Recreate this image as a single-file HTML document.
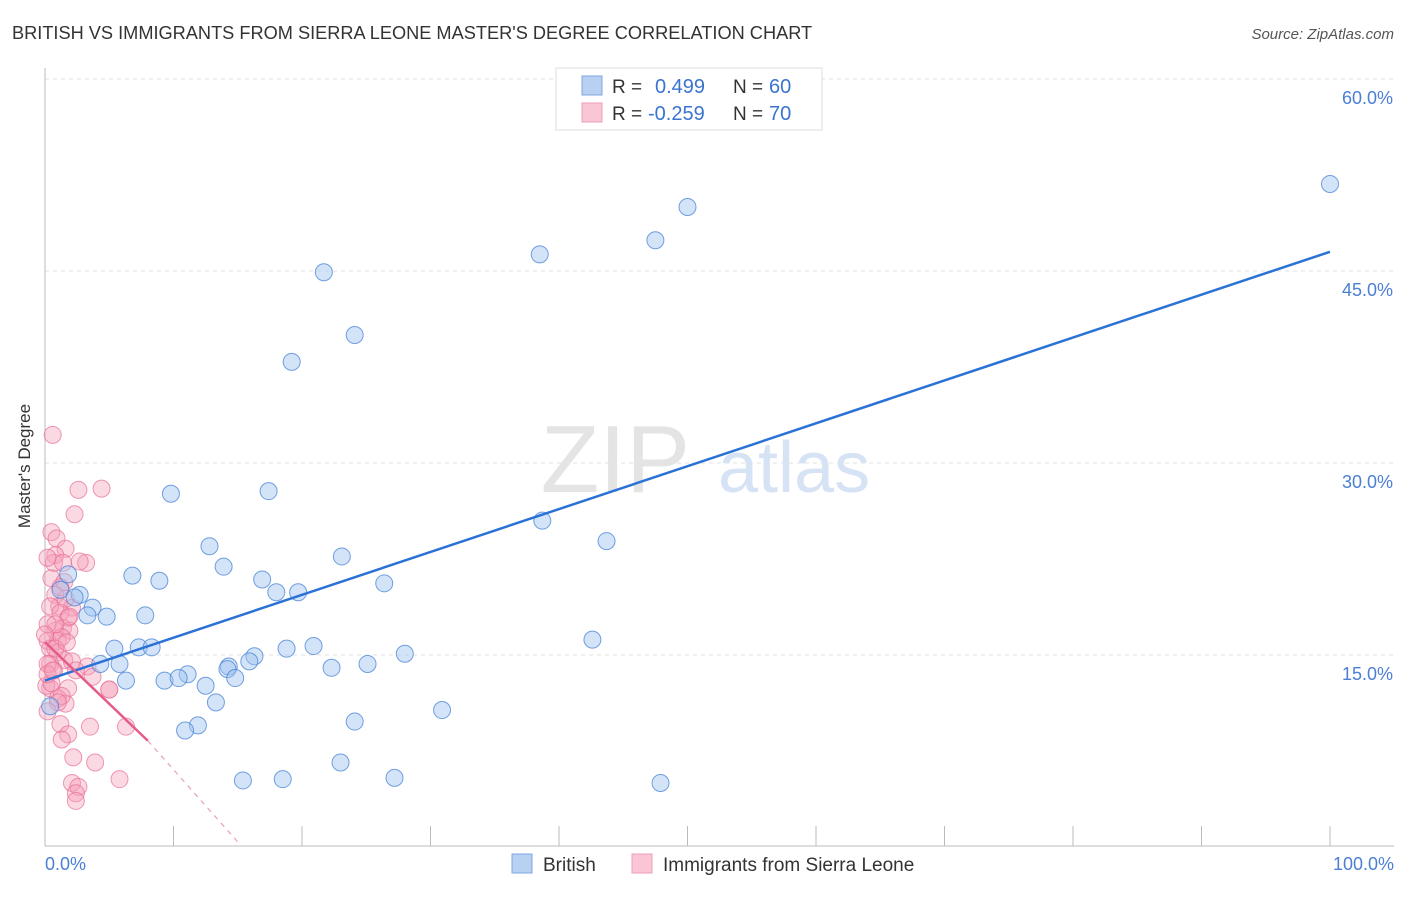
<!DOCTYPE html>
<html><head><meta charset="utf-8"><style>
body{margin:0;background:#fff;font-family:"Liberation Sans",sans-serif;}
svg text{font-family:"Liberation Sans",sans-serif;}
</style></head><body>
<svg width="1406" height="892" xmlns="http://www.w3.org/2000/svg">
<text x="12" y="39" font-size="18.2" fill="#333">BRITISH VS IMMIGRANTS FROM SIERRA LEONE MASTER'S DEGREE CORRELATION CHART</text>
<text x="1394" y="39" font-size="15" fill="#555" font-style="italic" text-anchor="end">Source: ZipAtlas.com</text>
<g id="grid"></g>
<text x="690" y="492" font-size="96" fill="#e4e4e4" font-family="Liberation Serif" text-anchor="end">ZIP</text>
<text x="718" y="492" font-size="72" fill="#d6e3f5">atlas</text>
<line x1="45" y1="68" x2="45" y2="846" stroke="#bbb"/>
<line x1="45" y1="846" x2="1394" y2="846" stroke="#bbb"/>
<text x="20" y="456" font-size="17" fill="#333" transform="rotate(-90 30 456)" text-anchor="middle">Master's Degree</text>
<text x="45" y="870" font-size="18" fill="#4a7fd4">0.0%</text>
<text x="1394" y="870" font-size="18" fill="#4a7fd4" text-anchor="end">100.0%</text>
<g id="pts"></g>
<g id="trends"></g>
<g>
<rect x="556" y="68" width="266" height="62" fill="#fff" stroke="#ddd"/>
<rect x="582" y="76" width="20" height="19" fill="#b8d1f3" stroke="#7ea7e0"/>
<rect x="582" y="103" width="20" height="19" fill="#fac6d6" stroke="#ef9fb8"/>
<text x="612" y="93" font-size="19" fill="#333">R = </text><text x="655" y="93" font-size="20" fill="#3a74d0">0.499</text>
<text x="733" y="93" font-size="19" fill="#333">N = </text><text x="769" y="93" font-size="20" fill="#3a74d0">60</text>
<text x="612" y="120" font-size="19" fill="#333">R = </text><text x="648" y="120" font-size="20" fill="#3a74d0">-0.259</text>
<text x="733" y="120" font-size="19" fill="#333">N = </text><text x="769" y="120" font-size="20" fill="#3a74d0">70</text>
</g>
<g>
<rect x="512" y="854" width="20" height="19" fill="#b8d1f3" stroke="#7ea7e0"/>
<text x="543" y="871" font-size="19" fill="#333">British</text>
<rect x="632" y="854" width="20" height="19" fill="#fac6d6" stroke="#ef9fb8"/>
<text x="663" y="871" font-size="19" fill="#333">Immigrants from Sierra Leone</text>
</g>
</svg>
<script>
const yTicks=[15,30,45,60];
const xTickVals=[0,10,20,30,40,50,60,70,80,90,100];
const britishX=[100,50,47.5,38.5,21.7,24.1,19.2,9.8,17.4,38.7,43.7,12.8,23.1,13.9,6.8,8.9,16.9,26.4,18,19.7,1.8,1.2,2.7,2.3,3.7,3.3,4.8,7.8,42.6,5.4,7.3,8.3,20.9,18.8,28,16.3,15.9,5.8,4.3,25.1,22.3,14.3,14.2,11.1,9.3,10.4,6.3,14.8,12.5,13.3,30.9,24.1,11.9,10.9,23,15.4,18.5,27.2,47.9,0.4];
const britishY=[51.8,50,47.4,46.3,44.9,40,37.9,27.6,27.8,25.5,23.9,23.5,22.7,21.9,21.2,20.8,20.9,20.6,19.9,19.9,21.3,20.1,19.7,19.5,18.7,18.1,18,18.1,16.2,15.5,15.6,15.6,15.7,15.5,15.1,14.9,14.5,14.3,14.3,14.3,14,14.1,13.9,13.5,13,13.2,13,13.2,12.6,11.3,10.7,9.8,9.5,9.1,6.6,5.2,5.3,5.4,5,11]; 
const slX=[0.6,2.6,4.4,2.3,0.5,0.9,1.6,0.8,0.7,3.2,1.4,0.5,0.8,1.1,0.4,2.1,1.2,1.8,1.4,0.8,1.9,0.2,1,1.3,0.4,1,1.5,2.1,0.4,0.7,3.3,2.4,3.7,0.4,0.1,5,1.8,1,1.6,0.5,5,6.3,1.2,1.8,1.3,3.5,2.2,3.9,5.8,2.1,2.6,2.4,2.4,0.2,0.2,0.2,0.8,1.6,1.2,1.5,2.7,0.2,1.9,0.8,0,1.3,1,0.2,0.6,1.7];
const slY=[32.2,27.9,28,26,24.6,24.1,23.3,22.8,22.2,22.2,22.2,21,19.7,18.8,18.8,18.7,18.3,17.9,17.1,16.9,16.9,16.1,16.1,16.4,15.5,15.2,14.6,14.5,14.3,13.8,14.1,13.8,13.3,12.4,12.6,12.3,12.4,11.6,11.2,12.8,12.3,9.4,9.6,8.8,8.4,9.4,7,6.6,5.3,5,4.7,4.2,3.6,17.4,14.3,13.5,15.5,19.4,20.3,20.7,22.3,22.6,18,17.4,16.6,11.8,11.3,10.6,13.8,16]; 
const NS="http://www.w3.org/2000/svg";
const X=v=>45+v*12.85, Y=v=>847-v*12.8;
function mk(t,a,p){const e=document.createElementNS(NS,t);for(const k in a)e.setAttribute(k,a[k]);p.appendChild(e);return e;}
const grid=document.getElementById('grid');
yTicks.forEach(t=>{
 const l=mk('line',{x1:45,x2:1394,y1:Y(t),y2:Y(t),stroke:'#e2e2e2','stroke-dasharray':'4,4'},grid);
 
 
 const tx=mk('text',{x:1393,y:Y(t)+25,'font-size':18,fill:'#4a7fd4','text-anchor':'end'},grid);
 tx.textContent=t.toFixed(1)+'%';
 
 
});
xTickVals.forEach(t=>{
 const l=mk('line',{x1:X(t),x2:X(t),y1:826,y2:846,stroke:'#bbb'},grid);
 
 
});
const pts=document.getElementById('pts');
slX.forEach((v,i)=>{
 const c=mk('circle',{cx:X(v),cy:Y(slY[i]),r:8.5,fill:'rgba(244,160,186,0.4)',stroke:'rgba(232,110,150,0.7)','stroke-width':1},pts);
 
 
});
britishX.forEach((v,i)=>{
 const c=mk('circle',{cx:X(v),cy:Y(britishY[i]),r:8.5,fill:'rgba(160,196,240,0.45)',stroke:'rgba(70,130,215,0.75)','stroke-width':1},pts);
 
 
});
const tr=document.getElementById('trends');
const b=mk('line',{x1:X(0),y1:Y(13),x2:X(100),y2:Y(46.5),stroke:'#2b72d6','stroke-width':2.5},tr);


const p=mk('line',{x1:X(0),y1:Y(16),x2:X(8),y2:Y(8.3),stroke:'#e55c8a','stroke-width':2.5},tr);


const pd=mk('line',{x1:X(8),y1:Y(8.3),x2:X(15),y2:Y(0.4),stroke:'#e8a0b8','stroke-width':1.2,'stroke-dasharray':'5,5'},tr);


</script>
</body></html>
